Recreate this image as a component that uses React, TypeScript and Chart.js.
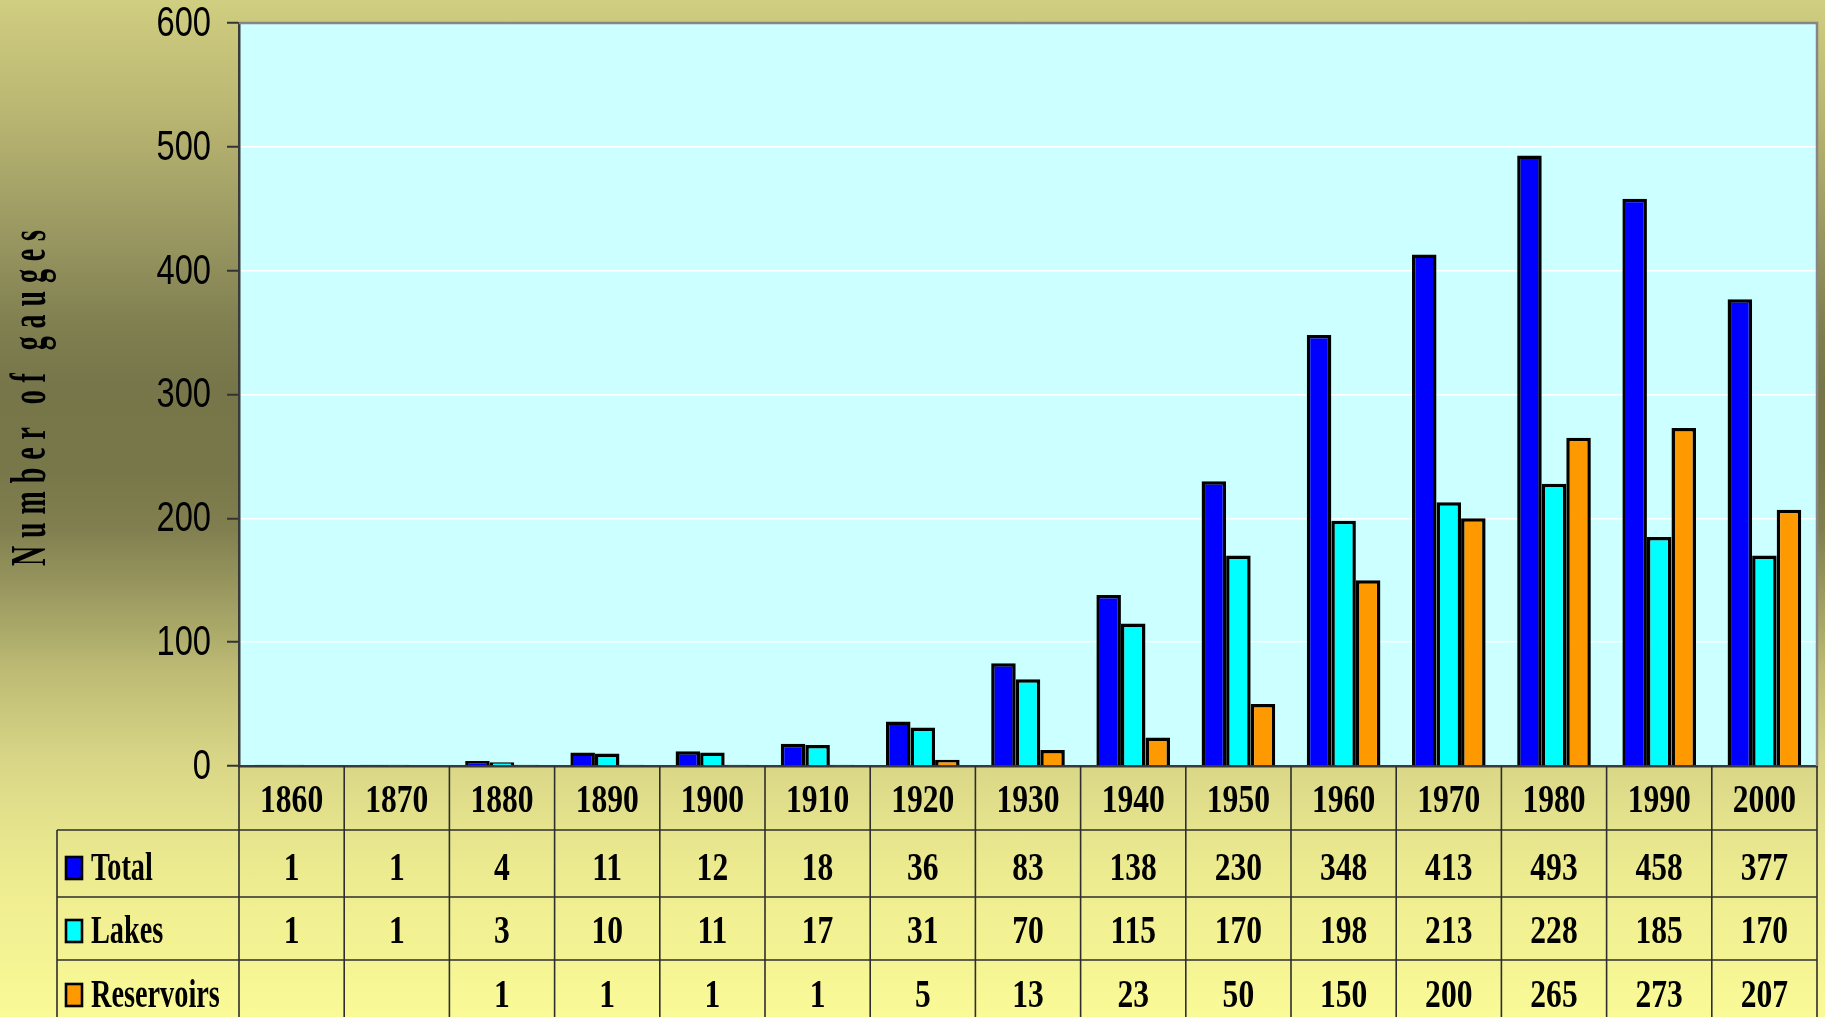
import React, { useEffect, useRef } from 'react';
import { Chart, registerables } from 'chart.js';

Chart.register(...registerables);

const years = ['1860', '1870', '1880', '1890', '1900', '1910', '1920', '1930', '1940', '1950', '1960', '1970', '1980', '1990', '2000'];
const totalValues = [1, 1, 4, 11, 12, 18, 36, 83, 138, 230, 348, 413, 493, 458, 377];
const lakesValues = [1, 1, 3, 10, 11, 17, 31, 70, 115, 170, 198, 213, 228, 185, 170];
const reservoirValues: (number | null)[] = [null, null, 1, 1, 1, 1, 5, 13, 23, 50, 150, 200, 265, 273, 207];
const seriesNames = ['Total', 'Lakes', 'Reservoirs'];
const seriesColors = ['#0000ff', '#00ffff', '#ff9900'];
const yTicks = [0, 100, 200, 300, 400, 500, 600];
const yTitle = 'Number of gauges';

const SERIF = "'Liberation Serif', 'Times New Roman', serif";
const SANS = "'Liberation Sans', Arial, sans-serif";

function drawCondensed(
  ctx: CanvasRenderingContext2D,
  text: string,
  x: number,
  y: number,
  sx: number,
  align: CanvasTextAlign,
  baseline: CanvasTextBaseline = 'alphabetic'
) {
  ctx.save();
  ctx.translate(x, y);
  ctx.scale(sx, 1);
  ctx.textAlign = align;
  ctx.textBaseline = baseline;
  ctx.fillText(text, 0, 0);
  ctx.restore();
}

const framePlugin = {
  id: 'frameAndTable',
  beforeDraw(chart: any) {
    const { ctx, chartArea: a } = chart;
    ctx.save();
    ctx.fillStyle = '#ccffff';
    ctx.fillRect(a.left, a.top, a.right - a.left, a.bottom - a.top);
    ctx.restore();
  },
  afterDraw(chart: any) {
    const { ctx, chartArea: a, scales } = chart;
    const xs = scales.x;
    const ys = scales.y;
    const H = chart.height;
    ctx.save();

    // plot frame top / right
    ctx.strokeStyle = '#868686';
    ctx.lineWidth = 2.5;
    ctx.beginPath();
    ctx.moveTo(a.left, a.top);
    ctx.lineTo(a.right, a.top);
    ctx.lineTo(a.right, a.bottom);
    ctx.stroke();

    // y tick labels (condensed sans)
    ctx.fillStyle = '#000';
    ctx.font = `43px ${SANS}`;
    yTicks.forEach((v) => {
      drawCondensed(ctx, String(v), a.left - 28, ys.getPixelForValue(v) + 1, 0.76, 'right', 'middle');
    });

    // data table grid
    const n = years.length;
    const colW = (a.right - a.left) / n;
    const rowEdges = [a.bottom, a.bottom + 64, a.bottom + 131, a.bottom + 194];
    const tableLeft = 57;
    ctx.strokeStyle = '#2e2e2e';
    ctx.lineWidth = 1.6;
    const line = (x1: number, y1: number, x2: number, y2: number) => {
      ctx.beginPath();
      ctx.moveTo(x1, y1);
      ctx.lineTo(x2, y2);
      ctx.stroke();
    };
    for (let i = 0; i < n; i++) {
      const c = xs.getPixelForValue(i);
      line(c - colW / 2, a.bottom, c - colW / 2, H);
    }
    line(a.right, a.bottom, a.right, H);
    line(tableLeft, rowEdges[1], tableLeft, H);
    for (let r = 1; r < rowEdges.length; r++) line(tableLeft, rowEdges[r], a.right, rowEdges[r]);

    // header years
    ctx.fillStyle = '#000';
    ctx.font = `bold 41px ${SERIF}`;
    years.forEach((yr, i) => {
      drawCondensed(ctx, yr, xs.getPixelForValue(i), rowEdges[0] + 46, 0.77, 'center');
    });

    // value rows + legend keys
    const rows = [totalValues, lakesValues, reservoirValues];
    const baselines = [rowEdges[1] + 50, rowEdges[2] + 46, rowEdges[3] + 47];
    rows.forEach((vals, r) => {
      ctx.fillStyle = '#000';
      ctx.font = `bold 41px ${SERIF}`;
      vals.forEach((v, i) => {
        if (v === null || v === undefined) return;
        drawCondensed(ctx, String(v), xs.getPixelForValue(i), baselines[r], 0.77, 'center');
      });
      ctx.fillStyle = seriesColors[r];
      ctx.fillRect(66, baselines[r] - 23, 16, 22);
      ctx.strokeStyle = '#000';
      ctx.lineWidth = 2.6;
      ctx.strokeRect(66, baselines[r] - 23, 16, 22);
      ctx.fillStyle = '#000';
      drawCondensed(ctx, seriesNames[r], 91, baselines[r], 0.69, 'left');
    });

    // y-axis title: condensed, letter-spaced, fitted to its span
    const span = 336;
    const sx = 0.56;
    ctx.save();
    ctx.font = `bold 50px ${SERIF}`;
    const natural = ctx.measureText(yTitle).width;
    const gaps = yTitle.length - 1;
    const spacing = Math.max(0, (span / sx - natural) / gaps);
    ctx.translate(45, 398);
    ctx.rotate(-Math.PI / 2);
    ctx.scale(sx, 1);
    (ctx as any).letterSpacing = `${spacing}px`;
    ctx.textAlign = 'left';
    ctx.textBaseline = 'alphabetic';
    ctx.fillStyle = '#000';
    ctx.fillText(yTitle, -(span / sx) / 2, 0);
    ctx.restore();

    ctx.restore();
  },
};

export default function App() {
  const canvasRef = useRef<HTMLCanvasElement | null>(null);

  useEffect(() => {
    if (!canvasRef.current) return;
    const chart = new Chart(canvasRef.current, {
      type: 'bar',
      data: {
        labels: years,
        datasets: [
          { label: seriesNames[0], data: totalValues, backgroundColor: seriesColors[0] },
          { label: seriesNames[1], data: lakesValues, backgroundColor: seriesColors[1] },
          { label: seriesNames[2], data: reservoirValues, backgroundColor: seriesColors[2] },
        ].map((d) => ({
          ...d,
          borderColor: '#000',
          borderWidth: 3.5,
          borderSkipped: 'bottom',
          categoryPercentage: 0.7,
          barPercentage: 1.0,
        })) as any,
      },
      options: {
        responsive: false,
        animation: false,
        devicePixelRatio: 1,
        layout: { padding: { left: 0, top: 23, right: 8, bottom: 0 } },
        plugins: {
          legend: { display: false },
          tooltip: { enabled: false },
          title: { display: false },
        },
        scales: {
          x: {
            grid: { display: true, color: 'rgba(0,0,0,0)', drawTicks: false },
            ticks: { display: false },
            border: { display: true, color: '#3a3a3a', width: 2.5 },
            afterFit: (s: any) => {
              s.height = 251;
              s.paddingLeft = 0;
              s.paddingRight = 0;
            },
          },
          y: {
            min: 0,
            max: 600,
            afterBuildTicks: (s: any) => {
              s.ticks = yTicks.map((v) => ({ value: v }));
            },
            ticks: { display: false },
            grid: {
              color: '#ffffff',
              lineWidth: 1.5,
              drawTicks: true,
              tickLength: 12,
              tickColor: '#333333',
              tickWidth: 2,
            },
            border: { display: true, color: '#3a3a3a', width: 2.5 },
            afterFit: (s: any) => {
              s.width = 239;
              s.paddingTop = 0;
              s.paddingBottom = 0;
            },
          },
        },
      } as any,
      plugins: [framePlugin],
    });
    return () => chart.destroy();
  }, []);

  return (
    <div
      style={{
        position: 'absolute',
        left: 0,
        top: 0,
        width: 1825,
        height: 1017,
        overflow: 'hidden',
        background:
          'linear-gradient(180deg, #d0ce80 0%, #b7b471 12%, #979560 24%, #807f50 32%, #77764a 38%, #787749 46%, #817f4f 52%, #9a985f 58%, #bdbb74 66%, #d9d787 75%, #ecea8f 85%, #fafa97 100%)',
      }}
    >
      <canvas ref={canvasRef} width={1825} height={1017} style={{ display: 'block' }} />
    </div>
  );
}
